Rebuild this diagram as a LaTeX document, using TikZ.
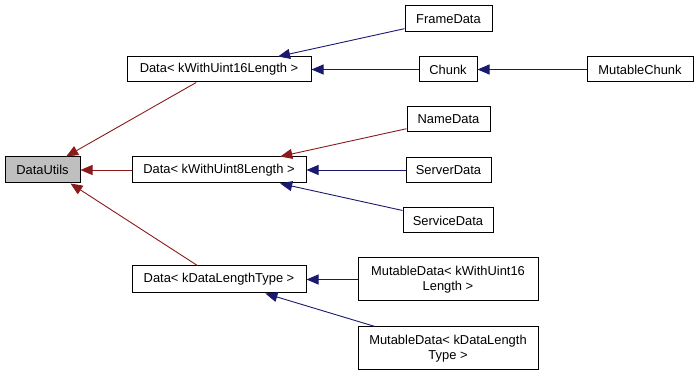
\documentclass[tikz,border=0pt]{standalone}
\usepackage{fontspec}
\setmainfont{Liberation Sans}
\usetikzlibrary{arrows.meta}
\definecolor{inhblue}{HTML}{191970}
\definecolor{usered}{HTML}{8B1A1A}
\definecolor{focusgray}{HTML}{BFBFBF}
\begin{document}
\begin{tikzpicture}[x=1pt,y=-1pt,
  cls/.style={draw=black, line width=1pt, fill=white, rectangle, inner sep=0pt,
    align=center, font=\fontsize{12.9}{15}\selectfont},
  focus/.style={cls, fill=focusgray},
  pub/.style={draw=inhblue, line width=0.9pt, -{Triangle[length=12pt,width=10pt]}},
  priv/.style={draw=usered, line width=0.9pt, -{Triangle[length=12pt,width=10pt]}}]
\useasboundingbox (0,0) rectangle (697,371);

% classes
\node[focus, minimum width=75pt, minimum height=26pt] (du) at (42.5,170) {DataUtils};
\node[cls, minimum width=184pt, minimum height=25pt] (d16) at (219,69.5) {Data\textless{} kWithUint16Length \textgreater};
\node[cls, minimum width=174pt, minimum height=26pt] (d8) at (219,170) {Data\textless{} kWithUint8Length \textgreater};
\node[cls, minimum width=174pt, minimum height=27pt] (dlt) at (219,279.5) {Data\textless{} kDataLengthType \textgreater};
\node[cls, minimum width=87pt, minimum height=26pt] (frame) at (448.5,19) {FrameData};
\node[cls, minimum width=58pt, minimum height=25pt] (chunk) at (448,69.5) {Chunk};
\node[cls, minimum width=106pt, minimum height=25pt] (mchunk) at (640,69.5) {MutableChunk};
\node[cls, minimum width=83pt, minimum height=25pt] (name) at (448.5,119.5) {NameData};
\node[cls, minimum width=85pt, minimum height=25pt] (server) at (448.5,170) {ServerData};
\node[cls, minimum width=90pt, minimum height=25pt] (service) at (448,220.5) {ServiceData};
\node[cls, minimum width=180pt, minimum height=43pt] (md16) at (448,279.5) {MutableData\textless{} kWithUint16\\Length \textgreater};
\node[cls, minimum width=180pt, minimum height=43pt] (mdlen) at (448,348.5) {MutableData\textless{} kDataLength\\Type \textgreater};

% relations
\draw[priv] (d16) -- (du);
\draw[priv] (d8) -- (du);
\draw[priv] (dlt) -- ([xshift=66pt]du.south west);
\draw[pub] (frame) -- (d16);
\draw[pub] (chunk) -- (d16);
\draw[pub] (mchunk) -- (chunk);
\draw[priv] (name) -- (d8);
\draw[pub] (server) -- (d8);
\draw[pub] (service) -- (d8);
\draw[pub] (md16) -- (dlt);
\draw[pub] (mdlen) -- (dlt);
\end{tikzpicture}
\end{document}
